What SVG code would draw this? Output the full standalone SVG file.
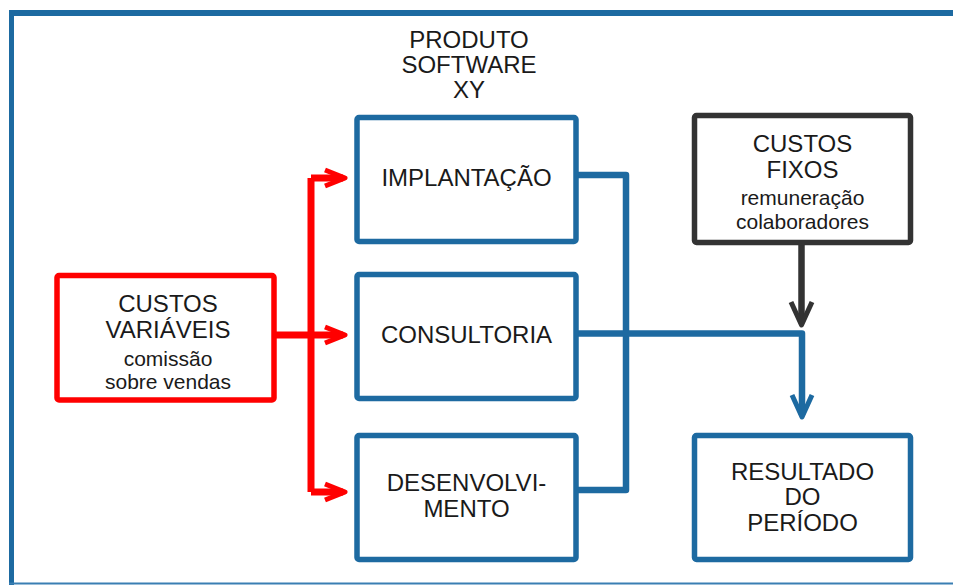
<svg xmlns="http://www.w3.org/2000/svg" width="953" height="585" viewBox="0 0 953 585">
<style>
.box{fill:#fff;stroke-width:5.5;stroke-linejoin:round}
.blue{stroke:#1d6aa1}
.red{stroke:#ff0000}
.dark{stroke:#333333}
.t{font-family:"Liberation Sans",Arial,sans-serif;font-size:24px;fill:#1a1a1a;text-anchor:middle}
.s{font-size:21px}
.ln{fill:none;stroke-linejoin:round;stroke-linecap:butt}
</style>
<rect width="953" height="585" fill="#fff"/>
<g id="frame">
<rect x="9" y="10" width="944" height="6" fill="#1d6aa1"/>
<rect x="9" y="10" width="5" height="575" fill="#1d6aa1"/>
<rect x="9" y="582.5" width="944" height="2" fill="#3a7fb3"/>
</g>
<g id="title"><text class="t" x="469" y="48">PRODUTO</text><text class="t" x="469" y="73">SOFTWARE</text><text class="t" x="469" y="98">XY</text></g>
<g id="connectors">
<path class="ln" d="M274 335 H343 M311 178 V492 M311 178 H343 M311 492 H343" stroke="#ff0000" stroke-width="7"/>
<path class="ln" d="M325 170 L345 178 L325 186 M325 327 L345 335 L325 343 M325 484 L345 492 L325 500" stroke="#ff0000" stroke-width="5"/>
<path class="ln" d="M577 175 H626 V490 H577" stroke="#1d6aa1" stroke-width="6.5"/>
<path class="ln" d="M577 333.5 H802 V415" stroke="#1d6aa1" stroke-width="6.5"/>
<path class="ln" d="M792 395 L802 417 L812 395" stroke="#1d6aa1" stroke-width="5"/>
<path class="ln" d="M801.5 243 V323" stroke="#333333" stroke-width="6.5"/>
<path class="ln" d="M791 302 L801.5 325 L812 302" stroke="#333333" stroke-width="5"/>
</g>
<g id="implantacao"><rect class="box blue" x="357" y="117.5" width="219" height="124" rx="2"/><text class="t" x="466.5" y="186">IMPLANTAÇÃO</text></g>
<g id="consultoria"><rect class="box blue" x="357" y="274.5" width="219" height="124" rx="2"/><text class="t" x="466.5" y="343">CONSULTORIA</text></g>
<g id="desenvolvimento"><rect class="box blue" x="357" y="435.5" width="219" height="124" rx="2"/><text class="t" x="466.5" y="491">DESENVOLVI-</text><text class="t" x="466.5" y="517">MENTO</text></g>
<g id="custos-variaveis"><rect class="box red" x="57" y="275.5" width="217" height="124.5" rx="2"/><text class="t" x="168" y="312">CUSTOS</text><text class="t" x="168" y="338">VARIÁVEIS</text><text class="t s" x="168" y="366">comissão</text><text class="t s" x="168" y="389">sobre vendas</text></g>
<g id="custos-fixos"><rect class="box dark" x="694.5" y="115.5" width="216" height="127" rx="2"/><text class="t" x="802.5" y="152">CUSTOS</text><text class="t" x="802.5" y="178">FIXOS</text><text class="t s" x="802.5" y="205">remuneração</text><text class="t s" x="802.5" y="229">colaboradores</text></g>
<g id="resultado"><rect class="box blue" x="694.5" y="435.5" width="216" height="124" rx="2"/><text class="t" x="802.5" y="480">RESULTADO</text><text class="t" x="802.5" y="505">DO</text><text class="t" x="802.5" y="531">PERÍODO</text></g>
</svg>
